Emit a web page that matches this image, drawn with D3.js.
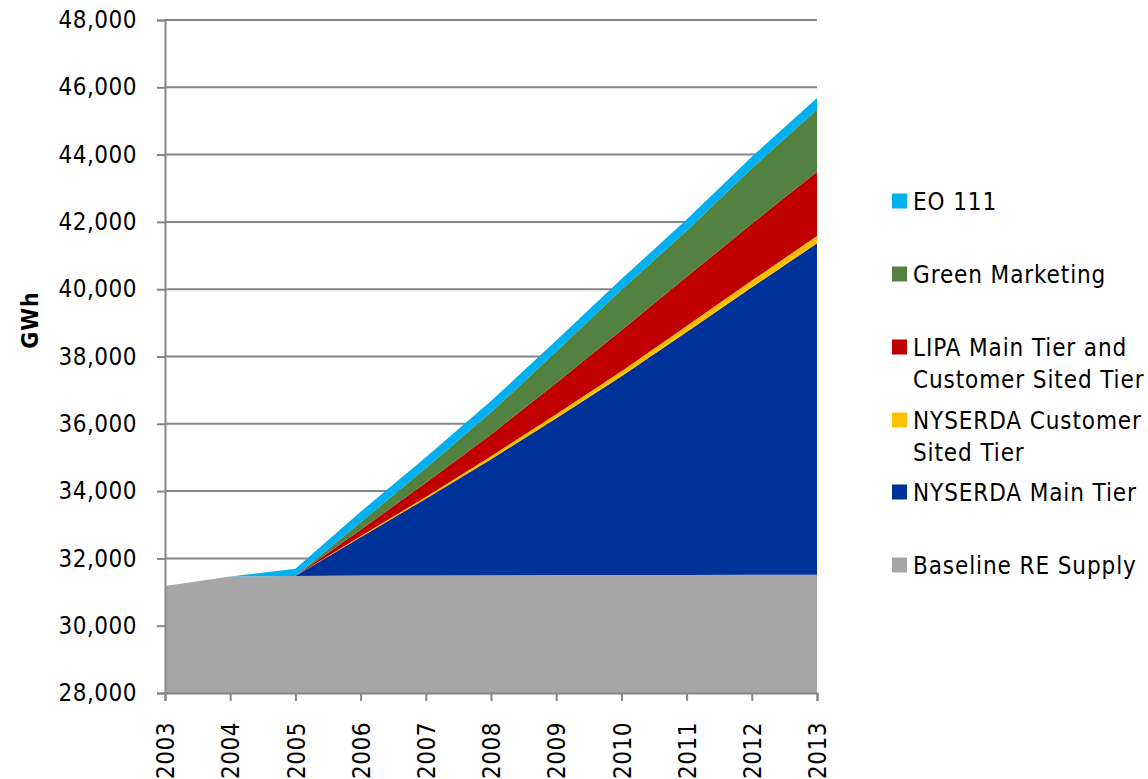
<!DOCTYPE html>
<html>
<head>
<meta charset="utf-8">
<script src="https://cdn.jsdelivr.net/npm/d3@7"></script>
<style>
  body { margin: 0; background: #fff; }
  svg text { font-family: "DejaVu Sans Condensed", "DejaVu Sans", sans-serif; font-stretch: condensed; fill: #000; }
</style>
</head>
<body>
<svg id="chart" width="1148" height="779"></svg>
<script>
//////////////////////////////////////////////////////////////////////////
//  RENEWABLE SUPPLY - stacked area, GWh by year
//////////////////////////////////////////////////////////////////////////

var years = [2003, 2004, 2005, 2006, 2007, 2008, 2009, 2010, 2011, 2012, 2013];

// series values in GWh
var baselineSupply = [31180, 31460, 31480, 31490, 31495, 31500, 31505, 31510, 31510, 31515, 31515];
var nyserdaMain    = [0, 0, 0, 1140, 2280, 3450, 4660, 5900, 7220, 8540, 9850];
var nyserdaCST     = [0, 0, 0, 25, 50, 85, 120, 150, 180, 200, 215];
var lipaTiers      = [0, 0, 0, 200, 420, 650, 930, 1220, 1460, 1690, 1910];
var greenMarketing = [0, 0, 0, 220, 440, 660, 930, 1200, 1370, 1650, 1850];
var eo111          = [0, 0, 210, 310, 320, 330, 330, 320, 330, 340, 345];

var yTicks = [28000, 30000, 32000, 34000, 36000, 38000, 40000, 42000, 44000, 46000, 48000];

// bottom to top
var seriesKeys   = ["baseline", "nyMain", "nyCST", "lipa", "green", "eo"];
var seriesValues = [baselineSupply, nyserdaMain, nyserdaCST, lipaTiers, greenMarketing, eo111];
var seriesColors = ["#a6a6a6", "#003399", "#ffc000", "#c00000", "#538240", "#00b0f0"];

// legend, top to bottom (each entry may wrap to two lines)
var legendKeys  = ["eo", "green", "lipa", "nyCST", "nyMain", "baseline"];
var legendLines = [["EO 111"], ["Green Marketing"], ["LIPA Main Tier and", "Customer Sited Tier"],
                   ["NYSERDA Customer", "Sited Tier"], ["NYSERDA Main Tier"], ["Baseline RE Supply"]];
var legendY     = [201, 274, 347, 420, 492, 565];


var margin = {left: 165, top: 20, right: 331, bottom: 86};
var width = 1148 - margin.left - margin.right;
var height = 779 - margin.top - margin.bottom;

var svg = d3.select("#chart");
var g = svg.append("g").attr("transform", "translate(" + margin.left + "," + margin.top + ")");

// build the rows d3.stack wants
var rows = years.map(function(yr, i) {
	var row = {year: yr};
	seriesKeys.forEach(function(k, j) { row[k] = seriesValues[j][i]; });
	return row;
});

var stack = d3.stack().keys(seriesKeys);
var layers = stack(rows);

var x = d3.scaleLinear().domain([2003, 2013]).range([0, width]);
var y = d3.scaleLinear().domain([28000, 48000]).range([height, 0]);

var colorOf = d3.scaleOrdinal().domain(seriesKeys).range(seriesColors);

// gridlines first, areas cover them
g.selectAll(".grid")
	.data(yTicks.slice(1))
	.enter()
	.append("line")
	.attr("class", "grid")
	.attr("x1", 0)
	.attr("x2", width)
	.attr("y1", function(d) { return y(d); })
	.attr("y2", function(d) { return y(d); })
	.attr("stroke", "#868686")
	.attr("stroke-width", 2);

var area = d3.area()
	.x(function(d) { return x(d.data.year); })
	.y0(function(d) { return y(d[0]); })
	.y1(function(d) { return y(d[1]); });

g.selectAll(".layer")
	.data(layers)
	.enter()
	.append("path")
	.attr("class", "layer")
	.attr("fill", function(d) { return colorOf(d.key); })
	.attr("d", function(d) {
		// baseline layer fills from the bottom of the axis
		if (d.key === "baseline") {
			return d3.area()
				.x(function(p) { return x(p.data.year); })
				.y0(height)
				.y1(function(p) { return y(p[1]); })(d);
		}
		return area(d);
	});

// y axis
var yAxis = g.append("g")
	.call(d3.axisLeft(y).tickValues(yTicks).tickSize(8).tickPadding(20).tickFormat(d3.format(",")));
yAxis.select(".domain").attr("stroke", "#868686").attr("stroke-width", 2);
yAxis.selectAll(".tick line").attr("stroke", "#868686").attr("stroke-width", 2);
yAxis.selectAll("text").style("font-size", "24px").style("letter-spacing", "0.5px");

// x axis, labels turned upright
var xAxis = g.append("g")
	.attr("transform", "translate(0," + height + ")")
	.call(d3.axisBottom(x).tickValues(years).tickSize(8).tickFormat(d3.format("d")));
xAxis.select(".domain").attr("stroke", "#868686").attr("stroke-width", 2);
xAxis.selectAll(".tick line").attr("stroke", "#868686").attr("stroke-width", 2);
xAxis.selectAll("text")
	.style("font-size", "24px")
	.style("letter-spacing", "0.5px")
	.attr("text-anchor", "end")
	.attr("dy", "0.36em")
	.attr("x", -29)
	.attr("y", 0)
	.attr("transform", "rotate(-90)");

// axis title
svg.append("text")
	.attr("transform", "translate(30,320) rotate(-90)")
	.attr("text-anchor", "middle")
	.attr("dy", "0.36em")
	.style("font-size", "23px")
	.style("font-weight", "bold")
	.style("letter-spacing", "1px")
	.text("GWh");

// legend
var legend = svg.append("g").attr("class", "legend");
legendKeys.forEach(function(k, i) {
	var cy = legendY[i];
	legend.append("rect")
		.attr("x", 892)
		.attr("y", cy - 7.5)
		.attr("width", 15)
		.attr("height", 15)
		.attr("fill", colorOf(k));
	legendLines[i].forEach(function(line, j) {
		legend.append("text")
			.attr("x", 913)
			.attr("y", cy + j * 32)
			.attr("dy", "0.36em")
			.style("font-size", "24px")
			.style("letter-spacing", "0.9px")
			.text(line);
	});
});
</script>
</body>
</html>
